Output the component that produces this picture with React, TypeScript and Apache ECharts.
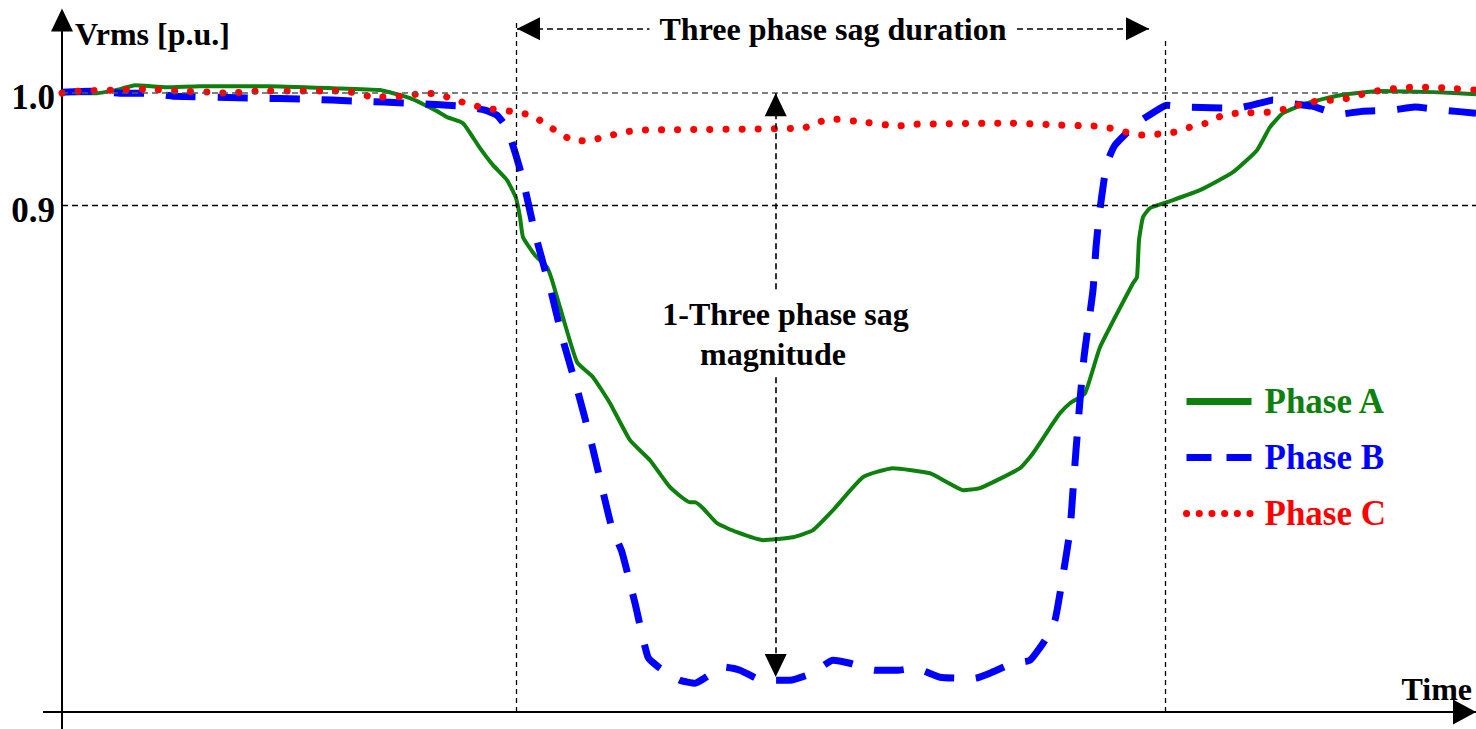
import { useEffect, useRef } from 'react';
import * as echarts from 'echarts';

// Time runs in arbitrary units along the horizontal axis, Vrms in p.u.
const phaseA: [number, number][] = [
  [0, 1.0], [3.5, 1.0], [5.8, 1.0036], [7.3, 1.0071], [10.5, 1.0053], [13.8, 1.0062], [20.5, 1.0062],
  [27.1, 1.0044], [31.8, 1.0027], [34.8, 0.9956], [37.5, 0.984], [38.5, 0.9787], [40.1, 0.9733],
  [41.8, 0.9511], [43.1, 0.936], [44.5, 0.9227], [45.4, 0.9067], [45.8, 0.8898], [46.1, 0.872],
  [47.3, 0.856], [48.5, 0.8453], [49.0, 0.8338], [49.8, 0.8098], [51.5, 0.7609], [53.1, 0.7476],
  [54.8, 0.7244], [56.8, 0.6916], [58.8, 0.6738], [60.8, 0.6498], [62.8, 0.6364], [63.3, 0.6364],
  [64.1, 0.6311], [65.5, 0.6178], [67.5, 0.6098], [70.1, 0.6027], [73.1, 0.6053], [75.1, 0.6116],
  [77.1, 0.6293], [80.1, 0.6587], [83.1, 0.6667], [86.8, 0.6622], [88.5, 0.6542], [90.1, 0.6471],
  [91.8, 0.6489], [95.8, 0.6667], [97.1, 0.68], [99.1, 0.7067], [99.8, 0.7156], [100.8, 0.7244],
  [102.3, 0.7333], [103.8, 0.7742], [107.1, 0.8311], [107.5, 0.8364], [107.7, 0.8693], [108.1, 0.8898],
  [108.8, 0.8978], [110.5, 0.9031], [113.8, 0.9138], [117.1, 0.9298], [119.5, 0.9493], [120.8, 0.9698],
  [122.1, 0.9822], [124.5, 0.9911], [127.8, 0.9982], [131.8, 1.0018], [137.1, 1.0009], [141.4, 0.9991],
];

const phaseB: [number, number][] = [
  [0, 1.0009], [3.5, 1.0018], [5.8, 1.0], [8.6, 1.0], [11.1, 0.9973], [19.1, 0.9956], [24.4, 0.9947],
  [29.6, 0.9929], [34.8, 0.9911], [40.0, 0.9884], [42.3, 0.9849], [43.5, 0.9804], [44.5, 0.9689],
  [45.3, 0.9476], [46.1, 0.9227], [47.3, 0.8756], [48.3, 0.8427], [48.8, 0.8276], [50.1, 0.7804],
  [51.6, 0.7342], [53.0, 0.6871], [54.3, 0.6382], [55.0, 0.6133], [56.0, 0.592], [57.3, 0.5467],
  [58.6, 0.4987], [59.8, 0.4889], [61.8, 0.4782], [63.3, 0.4756], [65.0, 0.4844], [66.3, 0.4898],
  [67.8, 0.4871], [70.0, 0.4782], [72.8, 0.4782], [75.0, 0.4844], [77.1, 0.496], [78.8, 0.4933],
  [81.3, 0.4871], [83.6, 0.4871], [85.3, 0.4889], [87.8, 0.4809], [90.3, 0.48], [91.3, 0.48],
  [93.0, 0.4853], [95.1, 0.4933], [96.8, 0.496], [98.3, 0.5138], [99.3, 0.5316], [100.1, 0.5716],
  [100.8, 0.6116], [101.1, 0.6471], [101.4, 0.6827], [101.8, 0.7271], [102.2, 0.7653], [102.6, 0.792],
  [103.1, 0.8249], [103.4, 0.8631], [103.7, 0.8898], [104.2, 0.9227], [104.6, 0.9404], [105.3, 0.9538],
  [107.5, 0.9733], [109.5, 0.9849], [110.5, 0.9893], [112.3, 0.9876], [117.5, 0.9867], [119.8, 0.9911],
  [121.1, 0.9938], [122.6, 0.9911], [125.0, 0.9884], [127.8, 0.9813], [130.1, 0.984], [133.0, 0.9849],
  [135.3, 0.9876], [138.1, 0.9849], [141.4, 0.9822],
];

const phaseC: [number, number][] = [
  [0, 1.0], [1.8, 1.0018], [5.1, 1.0027], [8.3, 1.0036], [11.6, 1.0018], [14.9, 1.0009], [16.5, 1.0],
  [19.7, 1.0018], [27.9, 1.0018], [29.5, 1.0], [31.1, 0.9964], [34.4, 0.9973], [36.0, 1.0],
  [37.6, 0.9991], [39.1, 0.9947], [40.7, 0.9902], [42.3, 0.9867], [45.5, 0.9831], [47.1, 0.9796],
  [48.5, 0.9716], [49.9, 0.9636], [51.3, 0.9573], [52.9, 0.9582], [54.6, 0.9618], [56.2, 0.9653],
  [57.8, 0.9671], [74.1, 0.9689], [75.6, 0.9742], [77.1, 0.9769], [80.3, 0.9742], [83.6, 0.9707],
  [85.2, 0.9724], [95.0, 0.9733], [99.9, 0.9716], [103.2, 0.9707], [104.8, 0.9689], [106.4, 0.9653],
  [108.0, 0.9627], [109.6, 0.9636], [111.2, 0.9653], [112.8, 0.9698], [114.4, 0.9733], [115.9, 0.9796],
  [117.5, 0.9822], [120.7, 0.9831], [122.3, 0.9858], [123.9, 0.9902], [125.5, 0.9929], [127.1, 0.9938],
  [128.7, 0.9956], [130.4, 1.0], [132.0, 1.0027], [133.6, 1.0044], [135.2, 1.0053], [136.8, 1.0053],
  [138.5, 1.0044], [141.4, 1.0027],
];

const seriesNames = ['Phase A', 'Phase B', 'Phase C'];
const yTickLabels = ['1.0', '0.9'];

// Axis ranges
const tMin = 0;
const tMax = 141.4;
const vMin = 0.45;
const vMax = 1.065;

// Sag annotation positions (time / p.u.)
const sagStart = 45.4;
const sagEnd = 110.3;
const durationArrowFrom = 45.5;
const durationArrowTo = 108.7;
const durationLevel = 1.0573;
const magnitudeTime = 71.37;
const magnitudeTop = 1.0;
const magnitudeBottom = 0.481;

const GREEN = '#0d800d';
const BLUE = '#0000ff';
const RED = '#ff0000';
const FONT = '"Liberation Serif", "Times New Roman", serif';

export default function App() {
  const ref = useRef<HTMLDivElement>(null);

  useEffect(() => {
    if (!ref.current) return;
    const chart = echarts.init(ref.current, undefined, { renderer: 'svg' });

    const dashed = (color: string, width: number) => ({ color, width, type: [6, 4] as number[] });
    const arrowEnd = (coord: [number, number], extra: Record<string, unknown> = {}) => ({
      coord,
      symbol: 'triangle',
      symbolSize: [22, 23],
      symbolOffset: [0, '50%'],
      ...extra,
    });
    const plainEnd = (coord: [number, number], extra: Record<string, unknown> = {}) => ({
      coord,
      symbol: 'none',
      ...extra,
    });

    const option: any = {
      animation: false,
      backgroundColor: '#fff',
      grid: { left: 62, right: 0, top: 20, bottom: 17, containLabel: false, outerBoundsMode: 'none' },
      xAxis: {
        type: 'value',
        min: tMin,
        max: tMax,
        name: 'Time',
        nameLocation: 'end',
        nameGap: -4,
        nameMoveOverlap: false,
        nameTextStyle: {
          fontFamily: FONT, fontWeight: 'bold', fontSize: 32, color: '#000',
          align: 'right', verticalAlign: 'bottom', padding: [0, 0, 7, 0],
        },
        axisLine: {
          onZero: false,
          symbol: ['none', 'triangle'],
          symbolSize: [25, 23],
          symbolOffset: [0, -11.5],
          lineStyle: { color: '#000', width: 2 },
        },
        axisTick: { show: false },
        axisLabel: { show: false },
        splitLine: { show: false },
      },
      yAxis: {
        type: 'value',
        min: vMin,
        max: vMax,
        interval: 0.05,
        name: 'Vrms [p.u.]',
        nameLocation: 'end',
        nameGap: -14,
        nameMoveOverlap: false,
        nameTextStyle: {
          fontFamily: FONT, fontWeight: 'bold', fontSize: 32, color: '#000',
          align: 'left', verticalAlign: 'middle', padding: [0, 0, 0, 13],
        },
        axisLine: {
          onZero: false,
          symbol: ['none', 'triangle'],
          symbolSize: [22, 23],
          lineStyle: { color: '#000', width: 2 },
        },
        axisTick: { show: false },
        splitLine: { show: false },
        axisLabel: {
          margin: 7,
          formatter: (v: number) => {
            const s = yTickLabels.find((t) => Math.abs(parseFloat(t) - v) < 1e-6);
            return s ? `{tick|${s}}` : '';
          },
          rich: {
            tick: {
              fontFamily: FONT,
              fontWeight: 'bold',
              fontSize: 35,
              color: '#000',
              padding: [9, 0, 0, 0],
            },
          },
        },
      },
      legend: {
        orient: 'vertical',
        left: 1183,
        top: 384,
        padding: 0,
        itemWidth: 65,
        itemHeight: 34,
        itemGap: 21,
        selectedMode: false,
        textStyle: { fontFamily: FONT, fontWeight: 'bold', fontSize: 35, padding: [0, 0, 0, 8] },
        data: [
          { name: seriesNames[0], itemStyle: { opacity: 0 }, lineStyle: { width: 7, color: GREEN, type: 'solid' }, textStyle: { color: GREEN } },
          { name: seriesNames[1], itemStyle: { opacity: 0 }, lineStyle: { width: 7, color: BLUE, type: [25, 15] }, textStyle: { color: BLUE } },
          { name: seriesNames[2], itemStyle: { opacity: 0 }, lineStyle: { width: 7, color: RED, type: [0.1, 12.6], cap: 'round' }, textStyle: { color: RED } },
        ],
      },
      graphic: [
        { type: 'line', silent: true, shape: { x1: 43, y1: 712, x2: 62, y2: 712 }, style: { stroke: '#000', lineWidth: 2 } },
        { type: 'line', silent: true, shape: { x1: 62, y1: 712, x2: 62, y2: 729 }, style: { stroke: '#000', lineWidth: 2 } },
      ],
      series: [
        {
          name: seriesNames[0],
          type: 'line',
          data: phaseA,
          symbol: 'none',
          smooth: 0.15,
          clip: false,
          color: GREEN,
          lineStyle: { color: GREEN, width: 4 },
          markLine: {
            silent: true,
            symbol: 'none',
            label: { show: false },
            data: [
              { yAxis: 1.0, lineStyle: dashed('#555', 1.6) },
              { yAxis: 0.9, lineStyle: dashed('#000', 1.3) },
              [plainEnd([sagStart, vMin], { lineStyle: { color: '#000', width: 1.3, type: [5, 4] } }), plainEnd([sagStart, 1.0631])],
              [plainEnd([sagEnd, vMin], { lineStyle: { color: '#000', width: 1.3, type: [5, 4] } }), plainEnd([sagEnd, 1.0489])],
              [
                arrowEnd([durationArrowFrom, durationLevel], {
                  symbolSize: [23, 23],
                  lineStyle: { color: '#000', width: 1.6, type: [6, 4] },
                  label: {
                    show: true,
                    position: 'insideMiddle',
                    formatter: 'Three phase sag duration',
                    color: '#000',
                    fontFamily: FONT,
                    fontWeight: 'bold',
                    fontSize: 32,
                    backgroundColor: '#fff',
                    padding: [11, 10, 0, 10],
                  },
                }),
                arrowEnd([durationArrowTo, durationLevel], { symbolSize: [23, 23] }),
              ],
              [
                arrowEnd([magnitudeTime, magnitudeTop], { lineStyle: { color: '#000', width: 1.6, type: [6, 4] } }),
                plainEnd([magnitudeTime, 0.8249]),
              ],
              [
                plainEnd([magnitudeTime, 0.7476], { lineStyle: { color: '#000', width: 1.6, type: [6, 4] } }),
                arrowEnd([magnitudeTime, magnitudeBottom]),
              ],
            ],
          },
          markPoint: {
            silent: true,
            symbol: 'rect',
            symbolSize: 1,
            itemStyle: { color: 'rgba(0,0,0,0)' },
            label: {
              show: true,
              position: 'inside',
              color: '#000',
              fontFamily: FONT,
              fontWeight: 'bold',
              fontSize: 32,
            },
            data: [
              { coord: [72.35, 0.8036], label: { formatter: '1-Three phase sag' } },
              { coord: [71.1, 0.768], label: { formatter: 'magnitude' } },
            ],
          },
        },
        {
          name: seriesNames[1],
          type: 'line',
          data: phaseB,
          symbol: 'none',
          smooth: 0.15,
          clip: false,
          color: BLUE,
          lineStyle: { color: BLUE, width: 7, type: [30, 22] },
        },
        {
          name: seriesNames[2],
          type: 'line',
          data: phaseC,
          symbol: 'none',
          smooth: 0.15,
          clip: false,
          color: RED,
          lineStyle: { color: RED, width: 7, type: [0.1, 16], cap: 'round' },
        },
      ],
    };

    chart.setOption(option);
    return () => chart.dispose();
  }, []);

  return (
    <div
      ref={ref}
      style={{ position: 'absolute', left: 0, top: 0, width: 1476, height: 729, background: '#fff' }}
    />
  );
}
